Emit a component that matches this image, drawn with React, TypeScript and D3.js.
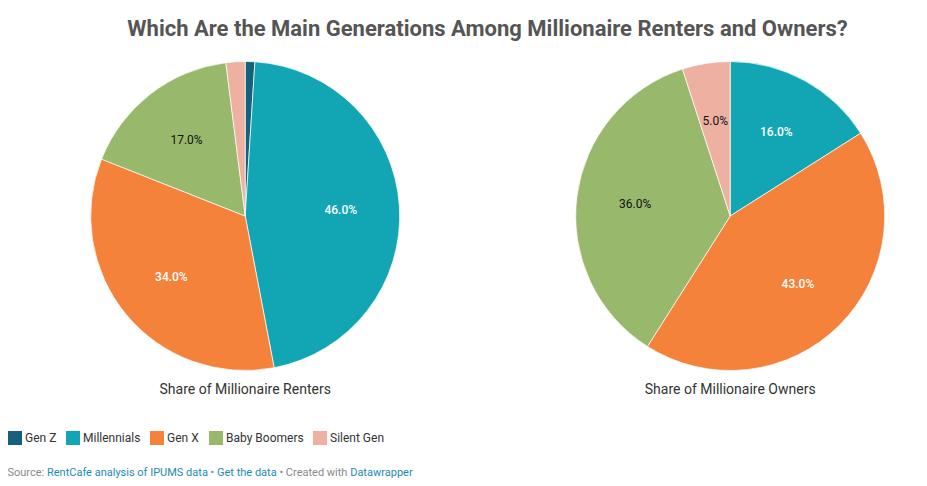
import React from "react";
import * as d3 from "d3";

const title = "Which Are the Main Generations Among Millionaire Renters and Owners?";
const generations = ["Gen Z", "Millennials", "Gen X", "Baby Boomers", "Silent Gen"];
const colors = ["#15607a", "#12a6b5", "#f4823b", "#98b86c", "#eeb0a0"];
const renters = [1, 46, 34, 17, 2];
const owners = [0, 16, 43, 36, 5];
const labelColors = ["#fff", "#fff", "#fff", "#111", "#111"];
const pies = [
  { name: "Share of Millionaire Renters", values: renters, cx: 245.2, cy: 216 },
  { name: "Share of Millionaire Owners", values: owners, cx: 730.2, cy: 216 },
];
const legendX = [8, 66, 150, 209, 313];
const radius = 154.5;

const font = "Roboto, sans-serif";

const Pie = ({ name, values, cx, cy }: { name: string; values: number[]; cx: number; cy: number }) => {
  const arcs = d3.pie<number>().sort(null)(values);
  const arc = d3.arc<d3.PieArcDatum<number>>().innerRadius(0).outerRadius(radius);
  const labelArc = d3.arc<d3.PieArcDatum<number>>().innerRadius(radius * 0.62).outerRadius(radius * 0.62);
  return (
    <g transform={`translate(${cx},${cy})`}>
      {arcs.map((d, i) => (
        <path key={i} d={arc(d) || ""} fill={colors[i]} stroke="#fff" strokeWidth={0.7} />
      ))}
      {arcs.map((d, i) => {
        if (d.value < 5) return null;
        const [x, y] = labelArc.centroid(d);
        return (
          <text key={i} x={x} y={y - 0.3} dy="0.35em" textAnchor="middle" fontSize={12}
            fontWeight={labelColors[i] === "#fff" ? 500 : 400} fill={labelColors[i]}>
            {d.value.toFixed(1)}%
          </text>
        );
      })}
      <text y={radius + 18.5} dy="0.35em" textAnchor="middle" fontSize={14} fill="#333">{name}</text>
    </g>
  );
};

export default function App() {
  return (
    <svg width={927} height={486} fontFamily={font}
      style={{ position: "absolute", left: 0, top: 0, background: "#fff" }}>
      <text x={487.5} y={36} textAnchor="middle" fontSize={22} fontWeight={700} fill="#555">{title}</text>
      {pies.map((p) => <Pie key={p.name} {...p} />)}
      {generations.map((g, i) => (
        <g key={g} transform={`translate(${legendX[i]},431)`}>
          <rect width={14} height={14} fill={colors[i]} />
          <text x={17} y={7} dy="0.35em" fontSize={12} fill="#333">{g}</text>
        </g>
      ))}
      <text x={7.5} y={476} fontSize={11} fill="#888">
        Source: <tspan fill="#1d8ab5">RentCafe analysis of IPUMS data</tspan> • <tspan fill="#1d8ab5">Get the data</tspan> • Created with <tspan fill="#1d8ab5">Datawrapper</tspan>
      </text>
    </svg>
  );
}
